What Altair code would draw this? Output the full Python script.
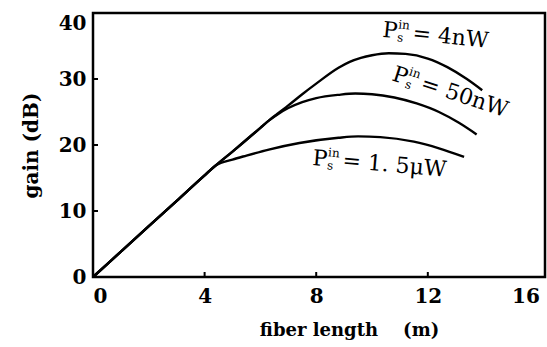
import altair as alt
import pandas as pd

# Fiber length (m) and gain (dB) for each signal input power
len_4nw = [0, 1, 2, 3, 4, 4.4, 5, 5.5, 6, 6.3, 6.6, 7, 7.5, 8, 8.8, 9.2, 9.6, 10.0, 10.6, 11.2, 12, 12.7, 13.4, 13.95]
gain_4nw = [0, 3.85, 7.7, 11.55, 15.4, 16.9, 19.0, 20.8, 22.6, 23.7, 24.7, 26.0, 27.7, 29.3, 31.7, 32.6, 33.2, 33.6, 33.9, 33.8, 33.1, 31.8, 30.0, 28.3]

len_50nw = [0, 1, 2, 3, 4, 4.4, 5, 5.5, 6, 6.3, 6.6, 7, 7.5, 8, 8.8, 9.4, 10.0, 10.8, 11.6, 12.4, 13.1, 13.75]
gain_50nw = [0, 3.85, 7.7, 11.55, 15.4, 16.9, 19.0, 20.8, 22.6, 23.7, 24.6, 25.6, 26.5, 27.1, 27.6, 27.8, 27.7, 27.2, 26.3, 25.0, 23.4, 21.6]

len_1500nw = [0, 1, 2, 3, 4, 4.4, 5, 5.5, 6.3, 7.4, 8.8, 9.5, 10.3, 11.5, 12.4, 13.3]
gain_1500nw = [0, 3.85, 7.7, 11.55, 15.4, 16.9, 17.8, 18.4, 19.3, 20.3, 21.1, 21.3, 21.2, 20.5, 19.5, 18.2]

x_ticks = [0, 4, 8, 12, 16]
y_ticks = [0, 10, 20, 30, 40]

# Curve labels: P_s^in = value
label_rest = ["= 4nW", "= 50nW", "= 1. 5\u03bcW"]

frames = []
for name, xs, ys in [("4nW", len_4nw, gain_4nw), ("50nW", len_50nw, gain_50nw), ("1.5uW", len_1500nw, gain_1500nw)]:
    frames.append(pd.DataFrame({"power": name, "length": xs, "gain": ys}))
lines_df = pd.concat(frames, ignore_index=True)

SERIF = "DejaVu Serif"
W, H = 452, 264

x_enc = alt.X(
    "length:Q",
    scale=alt.Scale(domain=[0, 16.2], nice=False, zero=False),
    axis=alt.Axis(
        values=x_ticks, title="fiber length\u00a0\u00a0\u00a0\u00a0(m)", grid=False, domain=False, ticks=False,
        labelFont=SERIF, labelFontSize=20, labelFontWeight="bold", labelColor="black",
        labelPadding=9, labelFlush=False,
        labelAlign={
            "condition": [
                {"test": "datum.value == 16", "value": "right"},
                {"test": "datum.value == 0", "value": "left"},
            ],
            "value": "center",
        },
        titleFont=SERIF, titleFontSize=18, titleFontWeight="bold", titleColor="black",
        titleX=256, titleY=58, titleAlign="center", titleBaseline="alphabetic",
    ),
)
y_enc = alt.Y(
    "gain:Q",
    scale=alt.Scale(domain=[0, 40], nice=False),
    axis=alt.Axis(
        values=y_ticks, title="gain (dB)", grid=False, domain=False, ticks=False,
        labelFont=SERIF, labelFontSize=20, labelFontWeight="bold", labelColor="black",
        labelPadding=7, labelFlush=False,
        labelBaseline={"condition": {"test": "datum.value == 40", "value": "top"}, "value": "middle"},
        titleFont=SERIF, titleFontSize=20, titleFontWeight="bold", titleColor="black",
        titleX=-62, titleY=H / 2, titleAngle=270, titleAlign="center", titleBaseline="middle",
    ),
)

curves = alt.Chart(lines_df).mark_line(color="black", strokeWidth=2.4, interpolate="monotone").encode(
    x=x_enc, y=y_enc, detail="power:N"
)

# Inward tick marks on the frame
xt = alt.Chart(pd.DataFrame({"length": x_ticks[1:4]})).mark_rule(color="black", strokeWidth=2).encode(
    x="length:Q", y=alt.value(H), y2=alt.value(H - 5)
)
yt = alt.Chart(pd.DataFrame({"gain": y_ticks[1:4]})).mark_rule(color="black", strokeWidth=2).encode(
    y="gain:Q", x=alt.value(0), x2=alt.value(5)
)

# Anchor (P left edge, baseline) of each label in data units, and its tilt
anchors = [(10.36, 36.4, 6), (10.68, 29.85, 18), (7.85, 16.97, 5)]
label_layers = []
for (ax, ay, ang), rest in zip(anchors, label_rest):
    df = pd.DataFrame({"length": [ax], "gain": [ay]})
    parts = [("P", 0, 0, 22), ("in", 15, -10, 12), ("s", 15, 3, 12), (rest, 30, 0, 22)]
    for txt, dx, dy, fs in parts:
        label_layers.append(
            alt.Chart(df).mark_text(
                text=txt, align="left", baseline="alphabetic", angle=ang, dx=dx, dy=dy,
                font=SERIF, fontSize=fs, color="black",
            ).encode(x="length:Q", y="gain:Q")
        )

chart = alt.layer(curves, xt, yt, *label_layers).properties(
    width=W, height=H,
    padding={"left": 93, "top": 13, "right": 2, "bottom": 70},
    autosize=alt.AutoSizeParams(type="none"),
    background="white",
).configure_view(stroke="black", strokeWidth=2.5)

chart.save("out.html", embed_options={"renderer": "svg", "actions": False})
